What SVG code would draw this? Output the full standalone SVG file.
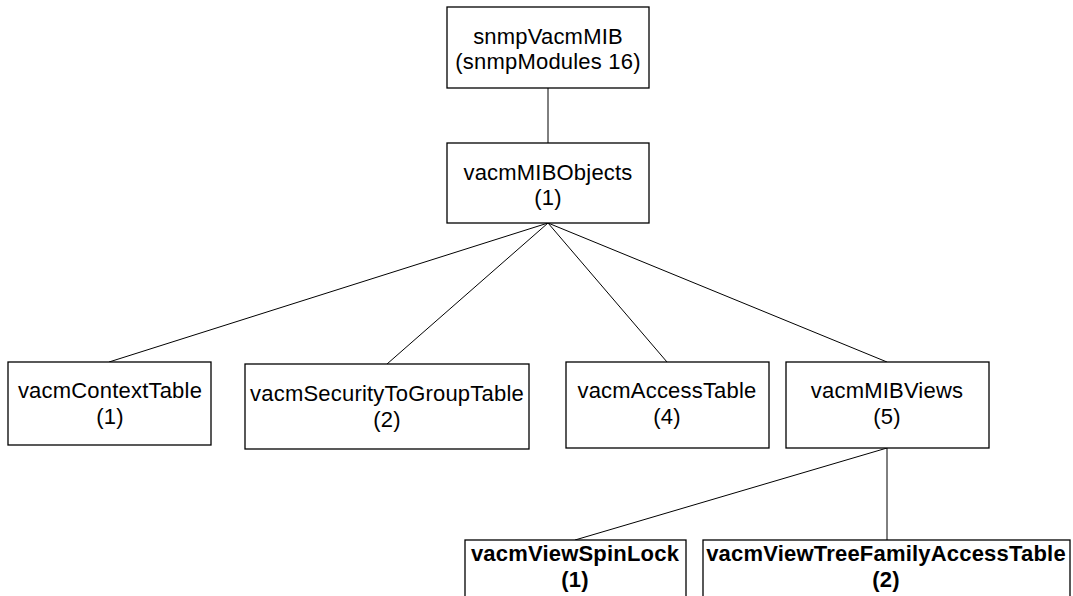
<svg xmlns="http://www.w3.org/2000/svg" width="1073" height="596" viewBox="0 0 1073 596">
<style>
rect{fill:#fff;stroke:#000;stroke-width:1.3}
line{stroke:#000;stroke-width:1}
text{font-family:"Liberation Sans",Arial,sans-serif;font-size:22px;letter-spacing:0.2px;text-anchor:middle;fill:#000}
.b{font-weight:bold}
</style>
<rect width="1073" height="596" style="stroke:none"/>
<g id="connectors">
<line x1="548" y1="88" x2="548" y2="143"/>
<line x1="548" y1="223" x2="109" y2="362"/>
<line x1="548" y1="223" x2="387" y2="364"/>
<line x1="548" y1="223" x2="667" y2="362"/>
<line x1="548" y1="223" x2="887" y2="362"/>
<line x1="887" y1="448" x2="575" y2="540"/>
<line x1="887" y1="448" x2="887" y2="540"/>
</g>
<g id="snmpVacmMIB"><rect x="447" y="7" width="202" height="81"/><text x="548" y="44">snmpVacmMIB</text><text x="548" y="69">(snmpModules 16)</text></g>
<g id="vacmMIBObjects"><rect x="447" y="143" width="202" height="80"/><text x="548" y="180">vacmMIBObjects</text><text x="548" y="205">(1)</text></g>
<g id="vacmContextTable"><rect x="8" y="362" width="203" height="83"/><text x="110" y="398">vacmContextTable</text><text x="110" y="424">(1)</text></g>
<g id="vacmSecurityToGroupTable"><rect x="245" y="364" width="284" height="85"/><text x="387" y="401">vacmSecurityToGroupTable</text><text x="387" y="427">(2)</text></g>
<g id="vacmAccessTable"><rect x="566" y="362" width="203" height="86"/><text x="667" y="398">vacmAccessTable</text><text x="667" y="424">(4)</text></g>
<g id="vacmMIBViews"><rect x="786" y="362" width="203" height="86"/><text x="887" y="398">vacmMIBViews</text><text x="887" y="424">(5)</text></g>
<g id="vacmViewSpinLock"><rect x="465" y="540" width="221" height="70"/><text class="b" x="575" y="561">vacmViewSpinLock</text><text class="b" x="575" y="587">(1)</text></g>
<g id="vacmViewTreeFamilyAccessTable"><rect x="703" y="540" width="367" height="70"/><text class="b" x="886" y="561">vacmViewTreeFamilyAccessTable</text><text class="b" x="886" y="587">(2)</text></g>
</svg>
